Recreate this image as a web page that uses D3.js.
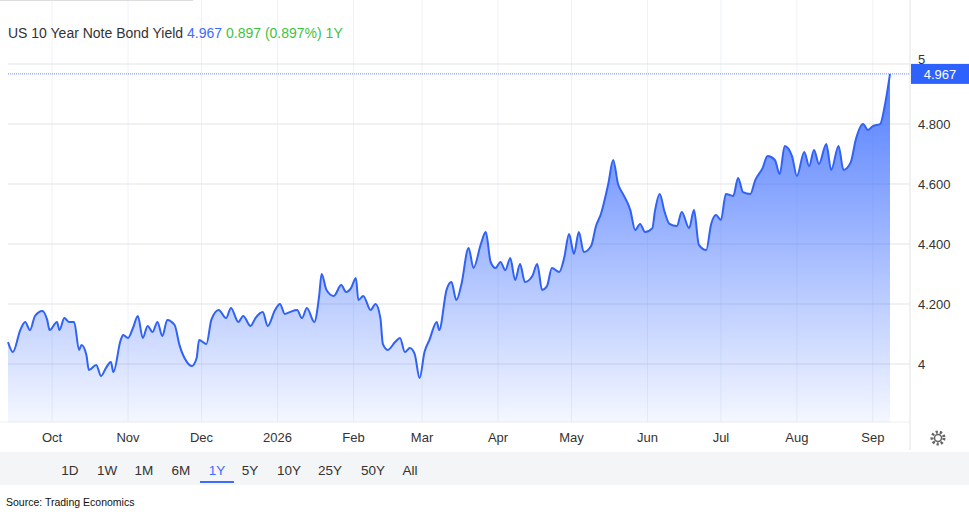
<!DOCTYPE html>
<html><head><meta charset="utf-8">
<script src="https://cdn.jsdelivr.net/npm/d3@7"></script>
<style>body{margin:0;background:#fff;font-family:"Liberation Sans",Arial,sans-serif}</style>
</head><body><svg id="c" width="969" height="512"></svg>
<script>
// days since 2025-09-13
const days = [0,2,5,7,9,11,14,16,17,20,21,23,25,27,29,30,32,33,36,38,40,42,43,46,47,49,51,53,55,57,59,61,63,65,68,70,73,75,77,78,81,83,86,89,91,94,96,99,101,104,106,109,111,113,115,118,120,122,125,127,128,130,133,136,138,140,142,143,145,148,150,152,153,155,158,160,162,164,166,168,170,172,175,176,179,181,183,185,188,190,193,195,197,199,201,203,205,207,209,211,214,216,218,220,222,225,227,229,231,233,235,238,240,242,245,247,249,251,254,256,258,260,263,264,266,268,270,273,275,278,280,282,285,287,289,291,293,296,298,300,303,305,308,310,313,315,317,320,322,325,327,329,331,334,336,339,341,344,346,349,351,353,356,358,360];
const yields = [4.073,4.04,4.113,4.14,4.113,4.16,4.177,4.147,4.113,4.14,4.113,4.153,4.14,4.14,4.047,4.063,4.03,3.98,3.997,3.96,3.987,4.007,3.973,4.08,4.097,4.087,4.12,4.16,4.087,4.127,4.107,4.14,4.093,4.147,4.13,4.063,4.007,3.993,4.02,4.08,4.067,4.147,4.18,4.153,4.187,4.14,4.16,4.127,4.153,4.173,4.127,4.18,4.2,4.167,4.173,4.18,4.153,4.187,4.14,4.227,4.3,4.247,4.227,4.263,4.24,4.253,4.287,4.213,4.227,4.18,4.2,4.153,4.067,4.047,4.073,4.087,4.04,4.053,4.033,3.953,4.04,4.08,4.14,4.113,4.247,4.273,4.213,4.263,4.387,4.32,4.4,4.44,4.34,4.32,4.34,4.313,4.353,4.28,4.333,4.273,4.293,4.333,4.247,4.26,4.32,4.307,4.353,4.433,4.367,4.44,4.373,4.393,4.46,4.5,4.6,4.68,4.6,4.567,4.513,4.447,4.467,4.44,4.453,4.507,4.567,4.507,4.467,4.46,4.507,4.453,4.513,4.397,4.38,4.467,4.497,4.48,4.567,4.56,4.62,4.573,4.567,4.613,4.653,4.693,4.68,4.633,4.727,4.693,4.627,4.707,4.66,4.713,4.667,4.733,4.647,4.727,4.647,4.673,4.747,4.8,4.78,4.793,4.8,4.867,4.967];
const yTicks = [4, 4.2, 4.4, 4.6, 4.8, 5];
const ranges = ["1D","1W","1M","6M","1Y","5Y","10Y","25Y","50Y","All"];
const rangeX = [70,107,144,181,217,250,289,330,373,410];

const start = new Date(2025, 8, 13);
const n = Math.min(days.length, yields.length);
const data = days.slice(0, n).map((d, i) => ({date: d3.timeDay.offset(start, d), v: yields[i]}));
const last = data[data.length - 1];

const svg = d3.select('#c');
const x = d3.scaleTime().domain([start, new Date(2026, 8, 8)]).range([8, 890]);
const y = d3.scaleLinear().domain([4, 5]).range([364, 64]);
const plotTop = 0, plotBottom = 422, plotRight = 910;

// gridlines
const months = d3.timeMonth.range(new Date(2025, 9, 1), new Date(2026, 8, 2));
svg.append('g').selectAll('line').data(months).join('line')
  .attr('x1', d => x(d)).attr('x2', d => x(d)).attr('y1', plotTop).attr('y2', plotBottom)
  .attr('stroke', '#eef2f8');
svg.append('g').selectAll('line').data(yTicks).join('line')
  .attr('x1', 8).attr('x2', plotRight).attr('y1', d => y(d)).attr('y2', d => y(d))
  .attr('stroke', '#e3e3e3');
svg.append('line').attr('x1', 0).attr('x2', 193).attr('y1', 0.5).attr('y2', 0.5).attr('stroke', '#ddd');
svg.append('line').attr('x1', plotRight).attr('x2', plotRight).attr('y1', 0).attr('y2', 450).attr('stroke', '#e3e3e3');
svg.append('line').attr('x1', 0).attr('x2', plotRight).attr('y1', plotBottom).attr('y2', plotBottom).attr('stroke', '#eee');

// area + line
const grad = svg.append('defs').append('linearGradient').attr('id', 'g').attr('x1', 0).attr('x2', 0).attr('y1', 0).attr('y2', 1);
grad.append('stop').attr('offset', '0%').attr('stop-color', '#3366ff').attr('stop-opacity', 0.85);
grad.append('stop').attr('offset', '100%').attr('stop-color', '#3366ff').attr('stop-opacity', 0.05);
svg.append('path').datum(data)
  .attr('d', d3.area().x(d => x(d.date)).y0(plotBottom).y1(d => y(d.v)).curve(d3.curveMonotoneX))
  .attr('fill', 'url(#g)');
svg.append('path').datum(data)
  .attr('d', d3.line().x(d => x(d.date)).y(d => y(d.v)).curve(d3.curveMonotoneX))
  .attr('fill', 'none').attr('stroke', '#2f62f5').attr('stroke-width', 2);

// last value marker
svg.append('line').attr('x1', 8).attr('x2', plotRight).attr('y1', y(last.v)).attr('y2', y(last.v))
  .attr('stroke', '#6b8cff').attr('stroke-dasharray', '1,1');
svg.append('rect').attr('x', plotRight + 1).attr('y', y(last.v) - 10).attr('width', 58).attr('height', 20).attr('fill', '#2d62ff');
svg.append('text').attr('x', 940).attr('y', y(last.v) + 5).attr('text-anchor', 'middle')
  .attr('fill', '#fff').attr('font-size', 13).text(last.v.toFixed(3));

// y labels
svg.append('g').selectAll('text').data(yTicks).join('text')
  .attr('x', 918).attr('y', d => y(d) + (d === 5 ? 0 : 5))
  .attr('font-size', 13).attr('fill', '#333')
  .text(d => d === 4 || d === 5 ? d : d.toFixed(3));

// x labels
svg.append('g').selectAll('text').data(months).join('text')
  .attr('x', d => x(d)).attr('y', 442).attr('text-anchor', 'middle')
  .attr('font-size', 13).attr('fill', '#333')
  .text(d => d.getMonth() === 0 ? d.getFullYear() : d3.timeFormat('%b')(d));

// gear
const gear = svg.append('g').attr('transform', 'translate(938,438)');
gear.append('circle').attr('r', 6).attr('fill', 'none').attr('stroke', '#666').attr('stroke-width', 3).attr('stroke-dasharray', '2.2,2');
gear.append('circle').attr('r', 3.5).attr('fill', 'none').attr('stroke', '#666').attr('stroke-width', 1.5);

// title
const t = svg.append('text').attr('x', 8).attr('y', 38).attr('font-size', 14);
t.append('tspan').attr('fill', '#333').text('US 10 Year Note Bond Yield ');
t.append('tspan').attr('fill', '#3d6bff').text('4.967 ');
t.append('tspan').attr('fill', '#3fc23f').text('0.897 (0.897%) 1Y');

// range bar
svg.append('rect').attr('x', 0).attr('y', 452).attr('width', 969).attr('height', 33).attr('fill', '#f4f5f7');
svg.append('g').selectAll('text').data(ranges).join('text')
  .attr('x', (d, i) => rangeX[i]).attr('y', 475).attr('text-anchor', 'middle')
  .attr('font-size', 13.5).attr('fill', d => d === '1Y' ? '#3d6bff' : '#333').text(d => d);
svg.append('rect').attr('x', 200).attr('y', 481).attr('width', 34).attr('height', 2).attr('fill', '#3d6bff');

svg.append('text').attr('x', 6).attr('y', 506).attr('font-size', 10.5).attr('fill', '#111').text('Source: Trading Economics');
</script></body></html>
